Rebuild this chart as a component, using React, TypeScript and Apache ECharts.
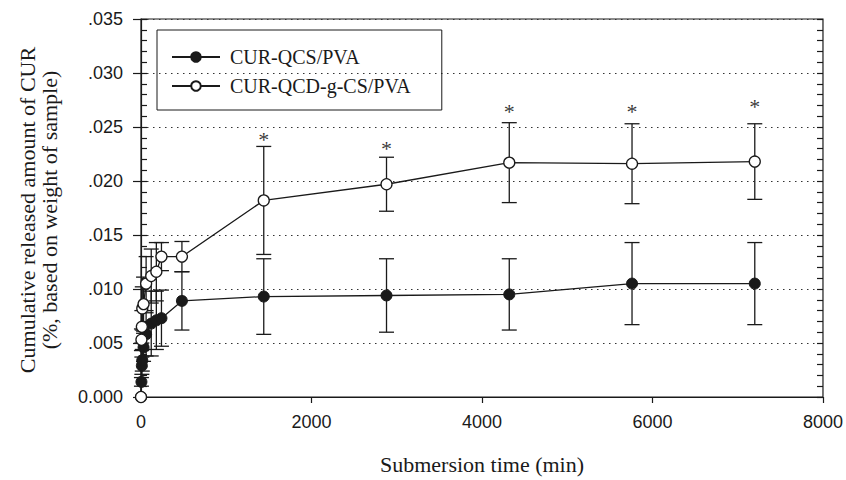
import React, { useEffect, useRef } from 'react';
import * as echarts from 'echarts';

// Sampling times (min)
const times = [0, 5, 10, 15, 30, 60, 120, 180, 240, 480, 1440, 2880, 4320, 5760, 7200];
// CUR-QCS/PVA (filled circles)
const qcsMean = [0, 0.0014, 0.0029, 0.0034, 0.0046, 0.0058, 0.0068, 0.0071, 0.0073, 0.0089, 0.0093, 0.0094, 0.0095, 0.0105, 0.0105];
const qcsErr = [0, 0.0004, 0.0008, 0.001, 0.0013, 0.002, 0.003, 0.0027, 0.0026, 0.0027, 0.0035, 0.0034, 0.0033, 0.0038, 0.0038];
// CUR-QCD-g-CS/PVA (open circles)
const qcdMean = [0, 0.0053, 0.0065, 0.0082, 0.0086, 0.0105, 0.0112, 0.0116, 0.013, 0.013, 0.0182, 0.0197, 0.0217, 0.0216, 0.0218];
const qcdErr = [0, 0.001, 0.0015, 0.002, 0.0025, 0.0025, 0.0025, 0.0027, 0.0013, 0.0014, 0.005, 0.0025, 0.0037, 0.0037, 0.0035];

const seriesNames = ['CUR-QCS/PVA', 'CUR-QCD-g-CS/PVA'];
const asteriskTimes = [1440, 2880, 4320, 5760, 7200];
const asteriskLevels = [0.0243, 0.0235, 0.0269, 0.0269, 0.0274];

const xTickValues = [0, 2000, 4000, 6000, 8000];
const yTickLabels = ['0.000', '.005', '.010', '.015', '.020', '.025', '.030', '.035'];
const xTitle = 'Submersion time (min)';
const yTitleLines = ['Cumulative released amount of CUR', '(%, based on weight of sample)'];

const INK = '#1a1a1a';
const SANS = "'Liberation Sans', Arial, sans-serif";
const SERIF = "'Liberation Serif', 'Times New Roman', serif";

function errorBars(means: number[], errs: number[], z: number) {
  return {
    type: 'custom',
    silent: true,
    z,
    xAxisIndex: 0,
    yAxisIndex: 0,
    encode: { x: 0, y: [1, 2] },
    data: times.map((t, i) => [t, means[i] - errs[i], means[i] + errs[i]]),
    renderItem: (_params: any, api: any) => {
      const x = api.value(0);
      const lo = api.coord([x, api.value(1)]);
      const hi = api.coord([x, api.value(2)]);
      const hw = 7.5;
      const style = { stroke: INK, lineWidth: 1.3 };
      if (Math.abs(lo[1] - hi[1]) < 0.5) return { type: 'group', children: [] };
      return {
        type: 'group',
        children: [
          { type: 'line', shape: { x1: lo[0], y1: lo[1], x2: hi[0], y2: hi[1] }, style },
          { type: 'line', shape: { x1: lo[0] - hw, y1: lo[1], x2: lo[0] + hw, y2: lo[1] }, style },
          { type: 'line', shape: { x1: hi[0] - hw, y1: hi[1], x2: hi[0] + hw, y2: hi[1] }, style },
        ],
      };
    },
  };
}

export default function App() {
  const ref = useRef<HTMLDivElement>(null);
  useEffect(() => {
    if (!ref.current) return;
    const chart = echarts.init(ref.current, undefined, { renderer: 'svg' });
    const yMinorAxis = (position: 'left' | 'right') => ({
      type: 'value',
      position,
      min: 0,
      max: 0.035,
      interval: 0.001,
      axisLine: { show: false },
      axisLabel: { show: false },
      splitLine: { show: false },
      axisTick: { show: true, inside: true, length: 6, lineStyle: { color: INK, width: 1.2 } },
    });
    chart.setOption({
      animation: false,
      backgroundColor: '#fff',
      grid: {
        left: 141,
        right: 23,
        top: 19,
        bottom: 78,
        show: true,
        borderColor: INK,
        borderWidth: 1.2,
      },
      legend: {
        data: seriesNames,
        orient: 'vertical',
        left: 157,
        top: 30,
        padding: [17, 31, 14, 14],
        itemWidth: 48,
        itemHeight: 12,
        itemGap: 9,
        borderColor: INK,
        borderWidth: 1,
        textStyle: { fontFamily: SERIF, fontSize: 20, color: INK, padding: [0, 0, 0, 5] },
      },
      xAxis: {
        type: 'value',
        min: 0,
        max: 8000,
        interval: 2000,
        name: xTitle,
        nameLocation: 'middle',
        nameGap: 56,
        nameTextStyle: { fontFamily: SERIF, fontSize: 22, color: INK },
        axisLine: { show: true, onZero: false, lineStyle: { color: INK, width: 1.2 } },
        axisTick: { show: true, inside: false, length: 6, lineStyle: { color: INK, width: 1.2 } },
        axisLabel: {
          margin: 16,
          fontFamily: SANS,
          fontSize: 18,
          color: INK,
          formatter: (v: number) => (xTickValues.includes(v) ? String(v) : ''),
        },
        splitLine: { show: false },
      },
      yAxis: [
        {
          type: 'value',
          position: 'left',
          min: 0,
          max: 0.035,
          interval: 0.005,
          axisLine: { show: true, onZero: false, lineStyle: { color: INK, width: 1.2 } },
          axisTick: { show: true, inside: false, length: 8, lineStyle: { color: INK, width: 1.2 } },
          axisLabel: {
            margin: 18,
            fontFamily: SANS,
            fontSize: 18,
            color: INK,
            formatter: (v: number) => yTickLabels[Math.round(v / 0.005)] ?? '',
          },
          splitLine: { show: true, lineStyle: { color: '#333', width: 1, type: [1.5, 4.5] } },
        },
        yMinorAxis('left'),
        yMinorAxis('right'),
      ],
      graphic: yTitleLines.map((t, i) => ({
        type: 'text',
        x: 27 + i * 22,
        y: 210,
        rotation: Math.PI / 2,
        silent: true,
        style: {
          text: t,
          fontFamily: SERIF,
          fontSize: 22,
          fill: INK,
          align: 'center',
          verticalAlign: 'middle',
          textAlign: 'center',
          textVerticalAlign: 'middle',
        },
      })),
      series: [
        errorBars(qcsMean, qcsErr, 1),
        errorBars(qcdMean, qcdErr, 1),
        {
          name: seriesNames[0],
          type: 'line',
          z: 3,
          data: times.map((t, i) => [t, qcsMean[i]]),
          symbol: 'circle',
          symbolSize: 11,
          showAllSymbol: true,
          lineStyle: { color: INK, width: 1.3 },
          itemStyle: { color: INK, borderColor: INK, borderWidth: 1 },
        },
        {
          name: seriesNames[1],
          type: 'line',
          z: 4,
          data: times.map((t, i) => [t, qcdMean[i]]),
          symbol: 'circle',
          symbolSize: 11,
          showAllSymbol: true,
          lineStyle: { color: INK, width: 1.3 },
          itemStyle: { color: '#fff', borderColor: INK, borderWidth: 1.3 },
        },
        {
          type: 'scatter',
          silent: true,
          z: 5,
          symbolSize: 1,
          itemStyle: { color: 'rgba(0,0,0,0)' },
          data: asteriskTimes.map((t, i) => [t, asteriskLevels[i]]),
          label: {
            show: true,
            position: 'inside',
            formatter: '*',
            offset: [0, 5],
            fontFamily: SERIF,
            fontSize: 22,
            color: '#000',
          },
        },
      ],
    });
    return () => chart.dispose();
  }, []);
  return (
    <div
      ref={ref}
      style={{ position: 'fixed', left: 0, top: 0, width: 846, height: 480, background: '#fff' }}
    />
  );
}
